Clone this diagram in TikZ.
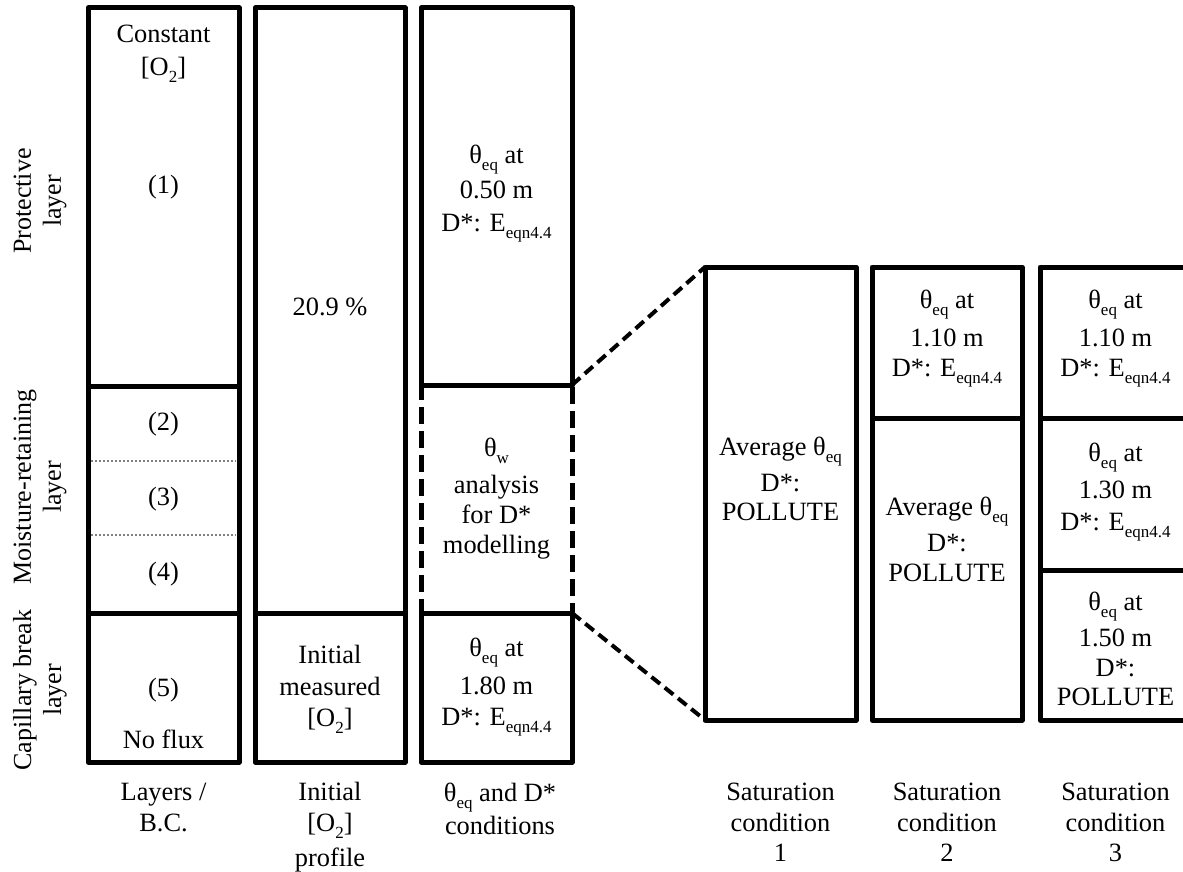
\documentclass[tikz,border=0pt]{standalone}
\usepackage{fontspec}
\setmainfont{Liberation Serif}
\newcommand\sbs[1]{\raisebox{-7.5pt}{\fontsize{17}{17}\selectfont #1}}
\newcommand\teq{θ\sbs{eq}}
\newcommand\deqn{D*: E\sbs{eqn4.4}}
\tikzset{
  cell/.style={draw, line width=5pt, line join=round, rectangle, inner sep=0pt, outer sep=0pt},
  dcell/.style={cell, dash pattern=on 17pt off 7pt},
  txt/.style={font=\fontsize{26.4}{30}\selectfont, inner sep=0pt, anchor=mid, yshift=-6pt},
  lab/.style={font=\fontsize{26}{30}\selectfont, align=center, rotate=90, inner sep=0pt},
  conn/.style={line width=4pt, dash pattern=on 11pt off 6pt},
  sepline/.style={gray, line width=1.5pt, dash pattern=on 2pt off 2pt}
}
\begin{document}
\begin{tikzpicture}[x=1pt, y=-1pt]
\useasboundingbox (0,0) rectangle (1183,872);
\fill[white] (0,0) rectangle (1183,872);
\clip (0,0) rectangle (1183,872);
% column 3 dashed box first
\node[dcell, minimum width=151pt, minimum height=228pt] (c3b) at (496.5,499) {};
% column 1
\node[cell, minimum width=151pt, minimum height=378pt] (c1a) at (163.5,197) {};
\node[cell, minimum width=151pt, minimum height=227pt] (c1b) at (163.5,499.5) {};
\node[cell, minimum width=151pt, minimum height=149pt] (c1c) at (163.5,687.5) {};
% column 2
\node[cell, minimum width=150pt, minimum height=605pt] (c2a) at (330,310.5) {};
\node[cell, minimum width=150pt, minimum height=149pt] (c2b) at (330,687.5) {};
% column 3
\node[cell, minimum width=151pt, minimum height=377pt] (c3a) at (496.5,196.5) {};
\node[cell, minimum width=151pt, minimum height=149pt] (c3c) at (496.5,687.5) {};
% saturation conditions
\node[cell, minimum width=151pt, minimum height=453pt] (s1) at (780.5,493.5) {};
\node[cell, minimum width=150pt, minimum height=151pt] (s2a) at (947,342.5) {};
\node[cell, minimum width=150pt, minimum height=302pt] (s2b) at (947,569) {};
\node[cell, minimum width=151pt, minimum height=151pt] (s3a) at (1115.5,342.5) {};
\node[cell, minimum width=151pt, minimum height=152pt] (s3b) at (1115.5,494) {};
\node[cell, minimum width=151pt, minimum height=150pt] (s3c) at (1115.5,645) {};
% dotted sub-layer lines
\coordinate (d1l) at (91,461); \coordinate (d1r) at (236,461);
\coordinate (d2l) at (91,535); \coordinate (d2r) at (236,535);
\draw[sepline] (d1l) -- (d1r);
\draw[sepline] (d2l) -- (d2r);
% connectors
\draw[conn] (c3b.north east) -- (s1.north west);
\draw[conn] (c3b.south east) -- (s1.south west);
% side labels
\node[lab] (lp) at (40,201) {Protective\\layer};
\node[lab] (lm) at (40,487) {Moisture-retaining\\layer};
\node[lab] (lc) at (40,690) {Capillary break\\layer};
% column 1 texts
\node[txt] (t1a) at (163.5,34) {Constant};
\node[txt] (t1b) at (163.5,67) {[O\sbs{2}]};
\node[txt] (t1c) at (163.5,185) {(1)};
\node[txt] (t1d) at (163.5,422) {(2)};
\node[txt] (t1e) at (163.5,497) {(3)};
\node[txt] (t1f) at (163.5,572) {(4)};
\node[txt] (t1g) at (163.5,688) {(5)};
\node[txt] (t1h) at (163.5,740) {No flux};
% column 2 texts
\node[txt] (t2a) at (330,307) {20.9 \%};
\node[txt] (t2b) at (330,655) {Initial};
\node[txt] (t2c) at (330,687) {measured};
\node[txt] (t2d) at (330,718) {[O\sbs{2}]};
% column 3 texts
\node[txt] (t3a) at (496.5,155) {\teq{} at};
\node[txt] (t3b) at (496.5,190) {0.50 m};
\node[txt] (t3c) at (496.5,223) {\deqn};
\node[txt] (t3d) at (496.5,448) {θ\sbs{w}};
\node[txt] (t3e) at (496.5,485) {analysis};
\node[txt] (t3f) at (496.5,515) {for D*};
\node[txt] (t3g) at (496.5,545) {modelling};
\node[txt] (t3h) at (496.5,648) {\teq{} at};
\node[txt] (t3i) at (496.5,686) {1.80 m};
\node[txt] (t3j) at (496.5,717) {\deqn};
% saturation condition 1
\node[txt] (u1a) at (780.5,447) {Average \teq};
\node[txt] (u1b) at (780.5,483) {D*:};
\node[txt] (u1c) at (780.5,512) {POLLUTE};
% saturation condition 2
\node[txt] (u2a) at (947,300) {\teq{} at};
\node[txt] (u2b) at (947,338) {1.10 m};
\node[txt] (u2c) at (947,368) {\deqn};
\node[txt] (u2d) at (947,507) {Average \teq};
\node[txt] (u2e) at (947,543) {D*:};
\node[txt] (u2f) at (947,573) {POLLUTE};
% saturation condition 3
\node[txt] (u3a) at (1115.5,300) {\teq{} at};
\node[txt] (u3b) at (1115.5,338) {1.10 m};
\node[txt] (u3c) at (1115.5,368) {\deqn};
\node[txt] (u3d) at (1115.5,453) {\teq{} at};
\node[txt] (u3e) at (1115.5,490) {1.30 m};
\node[txt] (u3f) at (1115.5,522) {\deqn};
\node[txt] (u3g) at (1115.5,602) {\teq{} at};
\node[txt] (u3h) at (1115.5,638) {1.50 m};
\node[txt] (u3i) at (1115.5,668) {D*:};
\node[txt] (u3j) at (1115.5,697) {POLLUTE};
% bottom labels
\node[txt] (b1a) at (163.5,792) {Layers /};
\node[txt] (b1b) at (163.5,823) {B.C.};
\node[txt] (b2a) at (330,792) {Initial};
\node[txt] (b2b) at (330,823) {[O\sbs{2}]};
\node[txt] (b2c) at (330,858) {profile};
\node[txt] (b3a) at (500,793) {\teq{} and D*};
\node[txt] (b3b) at (500,826) {conditions};
\node[txt] (b4a) at (780.5,792) {Saturation};
\node[txt] (b4b) at (780.5,823) {condition};
\node[txt] (b4c) at (780.5,853) {1};
\node[txt] (b5a) at (947,792) {Saturation};
\node[txt] (b5b) at (947,823) {condition};
\node[txt] (b5c) at (947,853) {2};
\node[txt] (b6a) at (1115.5,792) {Saturation};
\node[txt] (b6b) at (1115.5,823) {condition};
\node[txt] (b6c) at (1115.5,853) {3};
\end{tikzpicture}
\end{document}
